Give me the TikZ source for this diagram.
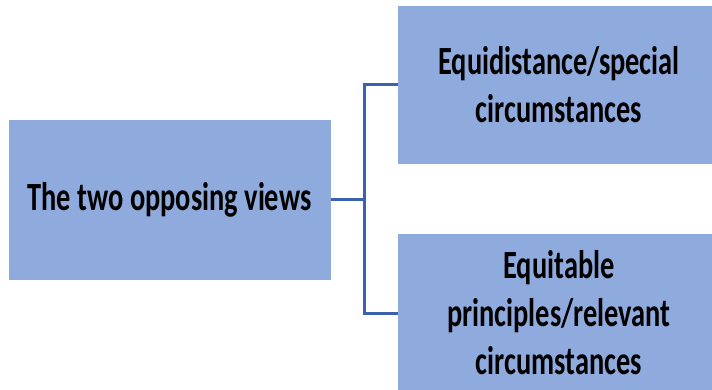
\documentclass[tikz,border=0pt]{standalone}
\usepackage{fontspec}
\setmainfont[FakeStretch=0.71]{Carlito}
\definecolor{boxfill}{HTML}{8FAADC}
\definecolor{linkblue}{HTML}{3B62AE}

\begin{document}
\begin{tikzpicture}[
                x=1pt, y=-1pt,
                every node/.style={fill=boxfill, minimum width=322pt, align=center,
                    font=\bfseries\fontsize{40}{48}\selectfont, inner sep=0pt},
                link/.style={draw=linkblue, line width=3pt}
            ]
                \useasboundingbox (0, 0) rectangle (712, 390);

                \node (root) at (169.5, 200) [minimum height=160pt] {The two opposing views};
                \node (equi) at (559, 85) [minimum height=158pt] {Equidistance/special\\circumstances};
                \node (equit) at (559, 313) [minimum height=158pt] {Equitable\\principles/relevant\\circumstances};

                \coordinate (fork) at (364, 200);

                \draw[link] (root.east) -- (fork);
                \draw[link] (equi.west) -| (fork) |- (equit.west);
            \end{tikzpicture}
\end{document}
